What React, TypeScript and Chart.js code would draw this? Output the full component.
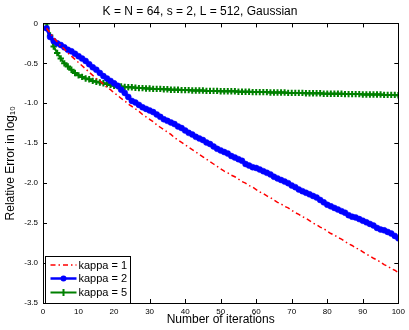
import React, { useEffect, useRef } from "react";
import { Chart, registerables } from "chart.js";

Chart.register(...registerables);

const iterations = [
  1, 2, 3, 4, 5, 6, 7, 8, 9, 10, 11, 12, 13, 14, 15, 16, 17, 18, 19, 20,
  21, 22, 23, 24, 25, 26, 27, 28, 29, 30, 31, 32, 33, 34, 35, 36, 37, 38, 39, 40,
  41, 42, 43, 44, 45, 46, 47, 48, 49, 50, 51, 52, 53, 54, 55, 56, 57, 58, 59, 60,
  61, 62, 63, 64, 65, 66, 67, 68, 69, 70, 71, 72, 73, 74, 75, 76, 77, 78, 79, 80,
  81, 82, 83, 84, 85, 86, 87, 88, 89, 90, 91, 92, 93, 94, 95, 96, 97, 98, 99, 100,
];

const kappa1 = [
  -0.06, -0.12, -0.18, -0.23, -0.28, -0.32, -0.37, -0.41, -0.45, -0.49,
  -0.53, -0.57, -0.61, -0.65, -0.69, -0.72, -0.76, -0.8, -0.83, -0.87,
  -0.9, -0.94, -0.97, -1.01, -1.04, -1.07, -1.1, -1.14, -1.17, -1.2,
  -1.23, -1.27, -1.3, -1.33, -1.36, -1.39, -1.43, -1.46, -1.49, -1.52,
  -1.55, -1.58, -1.61, -1.64, -1.67, -1.7, -1.73, -1.76, -1.79, -1.82,
  -1.85, -1.87, -1.9, -1.92, -1.95, -1.98, -2.0, -2.03, -2.05, -2.08,
  -2.11, -2.13, -2.16, -2.18, -2.21, -2.24, -2.26, -2.29, -2.31, -2.34,
  -2.37, -2.39, -2.42, -2.44, -2.47, -2.5, -2.52, -2.55, -2.57, -2.6,
  -2.63, -2.65, -2.68, -2.7, -2.73, -2.76, -2.78, -2.81, -2.83, -2.86,
  -2.89, -2.91, -2.94, -2.96, -2.99, -3.02, -3.04, -3.07, -3.09, -3.12,
];

const kappa2 = [
  -0.06, -0.17, -0.22, -0.25, -0.27, -0.3, -0.33, -0.35, -0.38, -0.41,
  -0.44, -0.47, -0.51, -0.55, -0.58, -0.62, -0.66, -0.69, -0.72, -0.75,
  -0.78, -0.83, -0.87, -0.92, -0.97, -0.99, -1.02, -1.05, -1.07, -1.09,
  -1.11, -1.14, -1.17, -1.2, -1.22, -1.24, -1.26, -1.29, -1.31, -1.34,
  -1.37, -1.39, -1.42, -1.44, -1.46, -1.49, -1.51, -1.54, -1.57, -1.59,
  -1.61, -1.63, -1.66, -1.68, -1.7, -1.72, -1.76, -1.78, -1.8, -1.81,
  -1.83, -1.85, -1.87, -1.89, -1.92, -1.94, -1.96, -1.98, -2.0, -2.03,
  -2.05, -2.08, -2.1, -2.12, -2.14, -2.16, -2.18, -2.21, -2.24, -2.27,
  -2.29, -2.31, -2.33, -2.35, -2.37, -2.4, -2.42, -2.43, -2.45, -2.47,
  -2.49, -2.51, -2.53, -2.56, -2.58, -2.59, -2.61, -2.63, -2.66, -2.69,
];

const kappa5 = [
  0, -0.15, -0.29, -0.37, -0.44, -0.5, -0.54, -0.58, -0.62, -0.65,
  -0.67, -0.69, -0.7, -0.72, -0.73, -0.74, -0.75, -0.76, -0.77, -0.78,
  -0.785, -0.79, -0.795, -0.8, -0.8, -0.805, -0.81, -0.81, -0.815, -0.815,
  -0.82, -0.82, -0.82, -0.825, -0.825, -0.83, -0.83, -0.83, -0.835, -0.835,
  -0.835, -0.84, -0.84, -0.84, -0.84, -0.845, -0.845, -0.845, -0.845, -0.85,
  -0.85, -0.85, -0.85, -0.85, -0.855, -0.855, -0.855, -0.855, -0.86, -0.86,
  -0.86, -0.86, -0.86, -0.865, -0.865, -0.865, -0.865, -0.865, -0.87, -0.87,
  -0.87, -0.87, -0.87, -0.875, -0.875, -0.875, -0.875, -0.875, -0.88, -0.88,
  -0.88, -0.88, -0.88, -0.88, -0.885, -0.885, -0.885, -0.885, -0.885, -0.89,
  -0.89, -0.89, -0.89, -0.89, -0.89, -0.895, -0.895, -0.895, -0.895, -0.9,
];

const seriesLabels = ["kappa = 1", "kappa = 2", "kappa = 5"];
const titleText = "K = N = 64, s = 2, L = 512, Gaussian";
const xTitle = "Number of iterations";
const yTitle = "Relative Error in log\u2081\u2080";

const FONT = "'Liberation Sans', Arial, Helvetica, sans-serif";
const RED = "rgb(255,0,0)";
const BLUE = "rgb(0,0,255)";
const GREEN = "rgb(0,128,0)";

const toPoints = (vals: number[]) => iterations.map((x, i) => ({ x, y: vals[i] }));

const framePlugin = {
  id: "matlabFrame",
  afterDraw(chart: any) {
    const { ctx, chartArea, scales } = chart;
    const { left, right, top, bottom } = chartArea;
    ctx.save();
    ctx.strokeStyle = "#000";
    ctx.lineWidth = 1;
    ctx.strokeRect(Math.round(left) + 0.5, Math.round(top) + 0.5, Math.round(right - left), Math.round(bottom - top));
    const tl = 4;
    ctx.beginPath();
    scales.x.ticks.forEach((t: any) => {
      const px = Math.round(scales.x.getPixelForValue(t.value)) + 0.5;
      ctx.moveTo(px, bottom);
      ctx.lineTo(px, bottom - tl);
      ctx.moveTo(px, top);
      ctx.lineTo(px, top + tl);
    });
    scales.y.ticks.forEach((t: any) => {
      const py = Math.round(scales.y.getPixelForValue(t.value)) + 0.5;
      ctx.moveTo(left, py);
      ctx.lineTo(left + tl, py);
      ctx.moveTo(right, py);
      ctx.lineTo(right - tl, py);
    });
    ctx.stroke();

    const bx = Math.round(left) + 2.5;
    const bw = 85;
    const bh = 47;
    const by = Math.round(bottom) - bh + 0.5;
    ctx.fillStyle = "#fff";
    ctx.fillRect(bx, by, bw, bh);
    ctx.strokeStyle = "#000";
    ctx.strokeRect(bx, by, bw, bh);
    const rows = [by + 8.5, by + 22, by + 36];
    const sx0 = bx + 5;
    const sx1 = bx + 31;
    ctx.font = `11px ${FONT}`;
    ctx.textBaseline = "middle";
    ctx.textAlign = "left";
    ctx.strokeStyle = RED;
    ctx.lineWidth = 1.5;
    ctx.setLineDash([5, 3, 1.5, 3]);
    ctx.beginPath();
    ctx.moveTo(sx0, rows[0]);
    ctx.lineTo(sx1, rows[0]);
    ctx.stroke();
    ctx.setLineDash([]);
    ctx.strokeStyle = BLUE;
    ctx.lineWidth = 2.5;
    ctx.beginPath();
    ctx.moveTo(sx0, rows[1]);
    ctx.lineTo(sx1, rows[1]);
    ctx.stroke();
    ctx.fillStyle = BLUE;
    ctx.beginPath();
    ctx.arc((sx0 + sx1) / 2, rows[1], 3, 0, Math.PI * 2);
    ctx.fill();
    ctx.strokeStyle = GREEN;
    ctx.lineWidth = 2;
    ctx.beginPath();
    ctx.moveTo(sx0, rows[2]);
    ctx.lineTo(sx1, rows[2]);
    const cx = (sx0 + sx1) / 2;
    ctx.moveTo(cx, rows[2] - 3.5);
    ctx.lineTo(cx, rows[2] + 3.5);
    ctx.stroke();
    ctx.fillStyle = "#000";
    seriesLabels.forEach((s, i) => ctx.fillText(s, sx1 + 2, rows[i] + 0.5));
    ctx.restore();
  },
};

export default function App() {
  const ref = useRef<HTMLCanvasElement | null>(null);
  useEffect(() => {
    document.body.style.margin = "0";
    const canvas = ref.current;
    if (!canvas) return;
    const chart = new Chart(canvas, {
      type: "line",
      data: {
        datasets: [
          {
            label: seriesLabels[0],
            data: toPoints(kappa1),
            borderColor: RED,
            backgroundColor: RED,
            borderWidth: 1.5,
            borderDash: [5, 3, 1.5, 3],
            pointRadius: 0,
            tension: 0,
          },
          {
            label: seriesLabels[1],
            data: toPoints(kappa2),
            borderColor: BLUE,
            backgroundColor: BLUE,
            borderWidth: 3,
            pointRadius: 3,
            pointBorderWidth: 0.5,
            pointStyle: "circle",
            tension: 0,
          },
          {
            label: seriesLabels[2],
            data: toPoints(kappa5),
            borderColor: GREEN,
            backgroundColor: GREEN,
            borderWidth: 2,
            pointRadius: 3.2,
            pointBorderWidth: 2,
            pointStyle: "cross",
            tension: 0,
          },
        ],
      },
      options: {
        animation: false,
        responsive: true,
        maintainAspectRatio: false,
        layout: { padding: { left: 0, right: 9, top: 0, bottom: 0 } },
        plugins: {
          legend: { display: false },
          tooltip: { enabled: false },
          title: {
            display: true,
            text: titleText,
            color: "#000",
            font: { family: FONT, size: 12, weight: "normal" },
            padding: { top: 4, bottom: 5 },
          },
        },
        scales: {
          x: {
            type: "linear",
            min: 0,
            max: 100,
            grid: { display: false, drawTicks: false },
            border: { display: false },
            ticks: {
              stepSize: 10,
              padding: 4,
              color: "#000",
              font: { family: FONT, size: 8 },
              maxRotation: 0,
            },
            title: {
              display: true,
              text: xTitle,
              color: "#000",
              font: { family: FONT, size: 12 },
              padding: { top: 0, bottom: 3 },
            },
            afterFit: (s: any) => {
              s.height = 27;
            },
          },
          y: {
            type: "linear",
            min: -3.5,
            max: 0,
            grid: { display: false, drawTicks: false },
            border: { display: false },
            ticks: {
              stepSize: 0.5,
              padding: 5,
              color: "#000",
              font: { family: FONT, size: 8 },
            },
            title: {
              display: true,
              text: yTitle,
              color: "#000",
              font: { family: FONT, size: 12 },
              padding: { top: 3, bottom: 0 },
            },
            afterFit: (s: any) => {
              s.width = 43;
            },
          },
        },
      },
      plugins: [framePlugin],
    });
    return () => chart.destroy();
  }, []);
  return (
    <div style={{ width: 409, height: 330, position: "relative" }}>
      <canvas ref={ref} />
    </div>
  );
}
